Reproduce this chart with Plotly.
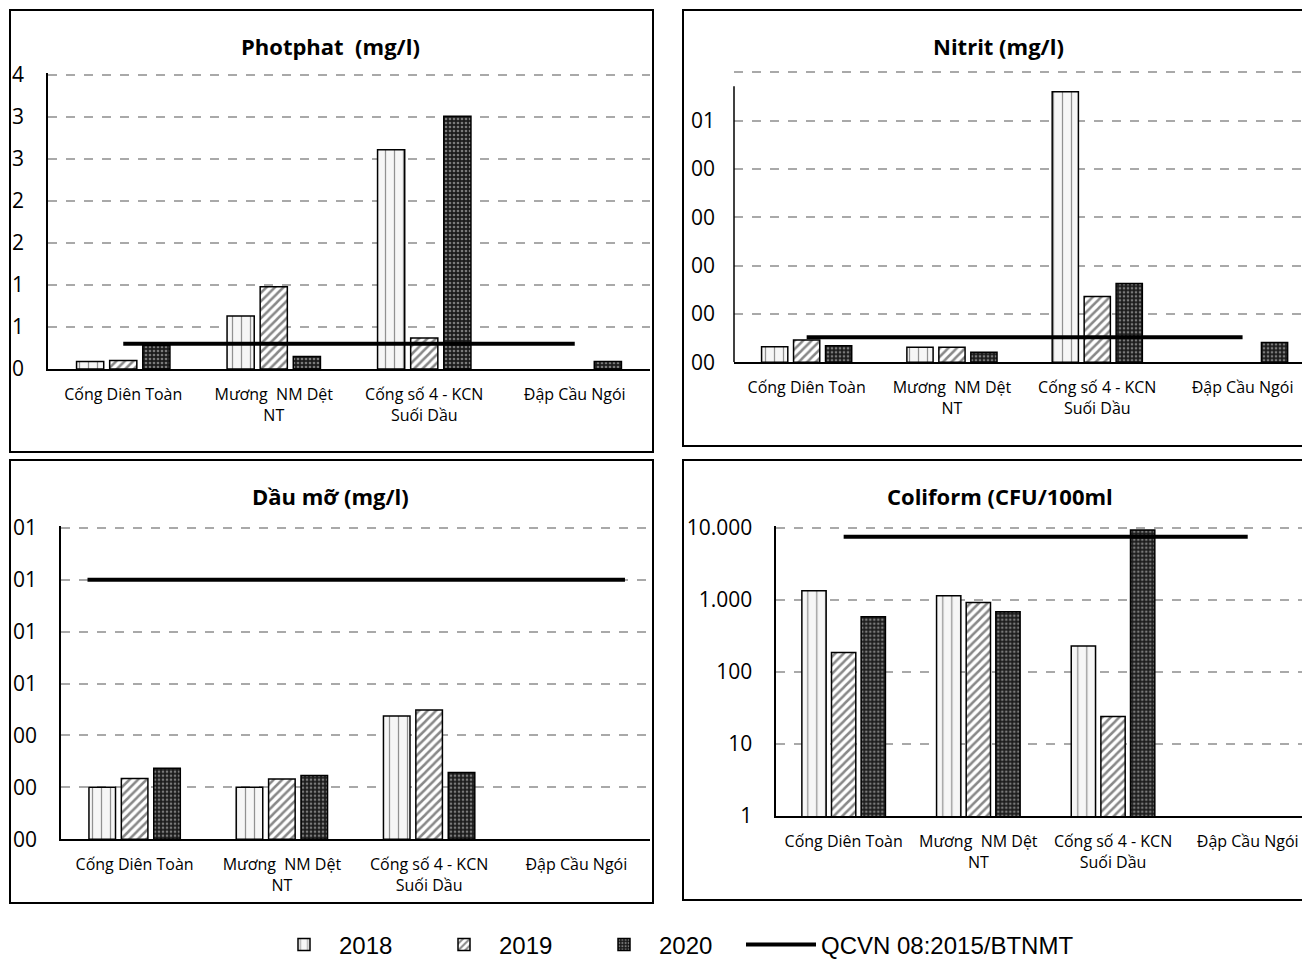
import plotly.graph_objects as go

# ---------------- data ----------------
categories = ["Cống Diên Toàn", "Mương\u00a0 NM Dệt<br>NT", "Cống số 4 - KCN<br>Suối Dầu", "Đập Cầu Ngói"]
cat_pos = [0, 1, 2, 3]
years = ["2018", "2019", "2020"]

photphat_2018 = [0.09, 0.63, 2.61, None]
photphat_2019 = [0.10, 0.98, 0.37, None]
photphat_2020 = [0.28, 0.15, 3.01, 0.09]
photphat_qcvn = [0.30, 0.30]

nitrit_2018 = [0.00032, 0.00031, 0.00560, None]
nitrit_2019 = [0.00046, 0.00031, 0.00136, None]
nitrit_2020 = [0.00034, 0.00021, 0.00163, 0.00041]
nitrit_qcvn = [0.00052, 0.00052]

daumo_2018 = [0.00200, 0.00200, 0.00475, None]
daumo_2019 = [0.00234, 0.00232, 0.00498, None]
daumo_2020 = [0.00274, 0.00246, 0.00257, None]
daumo_qcvn = [0.010, 0.010]

coliform_2018 = [1330, 1140, 228, None]
coliform_2019 = [186, 920, 24, None]
coliform_2020 = [580, 680, 9300, None]
coliform_qcvn = [7500, 7500]

qcvn_x_default = [0, 3]
qcvn_x_daumo = [-0.32, 3.33]

titles = ["Photphat\u00a0 (mg/l)", "Nitrit (mg/l)", "Dầu mỡ (mg/l)", "Coliform (CFU/100ml"]
qcvn_name = "QCVN 08:2015/BTNMT"

photphat_ticks = [0, 0.5, 1.0, 1.5, 2.0, 2.5, 3.0, 3.5]
photphat_ticktext = ["0", "1", "1", "2", "2", "3", "3", "4"]
nitrit_ticks = [0, 0.001, 0.002, 0.003, 0.004, 0.005, 0.006]
nitrit_ticktext = ["00", "00", "00", "00", "00", "01", ""]
daumo_ticks = [0, 0.002, 0.004, 0.006, 0.008, 0.010, 0.012]
daumo_ticktext = ["00", "00", "00", "01", "01", "01", "01"]
coliform_ticks = [1, 10, 100, 1000, 10000]
coliform_ticktext = ["1", "10", "100", "1.000", "10.000"]

# ---------------- styling ----------------
W, H = 1302, 960
def fx(px): return px / W
def fy(py): return 1 - py / H

patterns = {
    "2018": dict(shape="|", bgcolor="#f6f6f6", fgcolor="#2b2b2b", size=9, solidity=0.14),
    "2019": dict(shape="/", bgcolor="white", fgcolor="#111111", size=6, solidity=0.42),
    "2020": dict(shape=".", bgcolor="#1c1c1c", fgcolor="#d8d8d8", size=4, solidity=0.35),
}

fig = go.Figure()

panels = [
    ("x", "y", [photphat_2018, photphat_2019, photphat_2020], photphat_qcvn, qcvn_x_default),
    ("x2", "y2", [nitrit_2018, nitrit_2019, nitrit_2020], nitrit_qcvn, qcvn_x_default),
    ("x3", "y3", [daumo_2018, daumo_2019, daumo_2020], daumo_qcvn, qcvn_x_daumo),
    ("x4", "y4", [coliform_2018, coliform_2019, coliform_2020], coliform_qcvn, qcvn_x_default),
]

for i, (xa, ya, series, qcvn, qx) in enumerate(panels):
    for yr, vals in zip(years, series):
        fig.add_trace(go.Bar(
            x=cat_pos, y=vals, name=yr, xaxis=xa, yaxis=ya,
            legendgroup=yr, showlegend=(i == 0), legend="legend",
            marker=dict(color="white", pattern=patterns[yr],
                        line=dict(color="black", width=1.5)),
            offsetgroup=yr,
        ))
    fig.add_trace(go.Scatter(
        x=qx, y=qcvn, mode="lines", name=qcvn_name, xaxis=xa, yaxis=ya,
        legendgroup="qcvn", showlegend=(i == 0), legend="legend2",
        line=dict(color="black", width=4),
    ))

grid = dict(showgrid=True, gridcolor="#a9a9a9", gridwidth=1.5, griddash="dash")
tickfont_y = dict(family="Open Sans", size=21, color="black")
tickfont_x = dict(family="Open Sans", size=16, color="black")
legend_font = dict(family="Liberation Sans Narrow, Liberation Sans", size=24, color="black")

xcommon = dict(tickvals=cat_pos, ticktext=categories, showgrid=False, zeroline=False,
               showline=True, linecolor="black", linewidth=1.5, ticks="",
               tickfont=tickfont_x, ticklabelstandoff=10, fixedrange=True)

fig.update_layout(
    width=W, height=H, margin=dict(l=0, r=0, t=0, b=0, autoexpand=False),
    paper_bgcolor="white", plot_bgcolor="white",
    barmode="group", bargap=0.34, bargroupgap=0.18,
    xaxis=dict(domain=[fx(48), fx(650)], range=[-0.5, 3.5], anchor="y", **xcommon),
    yaxis=dict(domain=[fy(369), fy(73)], range=[0, 3.5 + 2 / 84], anchor="x",
               tickvals=photphat_ticks, ticktext=photphat_ticktext,
               showline=True, linecolor="black", linewidth=1.5, zeroline=False,
               tickfont=tickfont_y, ticklabelstandoff=18, **grid),
    xaxis2=dict(domain=[fx(734), 1.0], range=[-0.5, 3.409], anchor="y2", **xcommon),
    yaxis2=dict(domain=[fy(362.3), fy(70.3)], range=[0, 0.006 + 0.002 / 48.33], anchor="x2",
                tickvals=nitrit_ticks, ticktext=nitrit_ticktext,
                showline=False, zeroline=False,
                tickfont=tickfont_y, ticklabelstandoff=18, **grid),
    xaxis3=dict(domain=[fx(61), fx(650)], range=[-0.5, 3.5], anchor="y3", **xcommon),
    yaxis3=dict(domain=[fy(839.3), fy(525.7)], range=[0, 0.012 + 0.004 / 51.93], anchor="x3",
                tickvals=daumo_ticks, ticktext=daumo_ticktext,
                showline=True, linecolor="black", linewidth=1.5, zeroline=False,
                tickfont=tickfont_y, ticklabelstandoff=18, **grid),
    xaxis4=dict(domain=[fx(776.3), 1.0], range=[-0.5, 3.403], anchor="y4", **xcommon),
    yaxis4=dict(domain=[fy(816), fy(525.7)], type="log", range=[0, 4 + 2 / 72.1], anchor="x4",
                tickvals=coliform_ticks, ticktext=coliform_ticktext,
                showline=True, linecolor="black", linewidth=1.5, zeroline=False,
                tickfont=tickfont_y, ticklabelstandoff=18, **grid),
    legend=dict(orientation="h", x=fx(269), xanchor="left", y=fy(945), yanchor="middle",
                font=legend_font, itemwidth=60, entrywidth=85, entrywidthmode="pixels",
                tracegroupgap=0, bgcolor="rgba(0,0,0,0)"),
    legend2=dict(orientation="h", x=fx(741), xanchor="left", y=fy(945), yanchor="middle",
                 font=legend_font, itemwidth=70, bgcolor="rgba(0,0,0,0)"),
    showlegend=True,
)

# Nitrit y-axis line (shorter than the plot area)
fig.add_shape(type="line", xref="x2 domain", yref="y2", x0=0, x1=0, y0=0, y1=0.00571,
              line=dict(color="black", width=1.5))

# panel frames
frames = [(10, 10, 653, 452), (683, 10, 1320, 446), (10, 460, 653, 903), (683, 460, 1320, 900)]
for x0, y0, x1, y1 in frames:
    fig.add_shape(type="rect", xref="paper", yref="paper",
                  x0=fx(x0), x1=fx(x1), y0=fy(y1), y1=fy(y0),
                  line=dict(color="black", width=2), fillcolor="rgba(0,0,0,0)", layer="below")

# titles
title_pos = [(331, 46), (998, 46), (331, 496), (1000, 496)]
for t, (px, py) in zip(titles, title_pos):
    fig.add_annotation(text=t, x=fx(px), y=fy(py), xref="paper", yref="paper",
                       showarrow=False, xanchor="center", yanchor="middle",
                       font=dict(family="Open Sans", size=22, color="black", weight="bold"))

fig.write_html("out.html", config={"displayModeBar": False},
               post_script="document.body.style.margin='0';")
